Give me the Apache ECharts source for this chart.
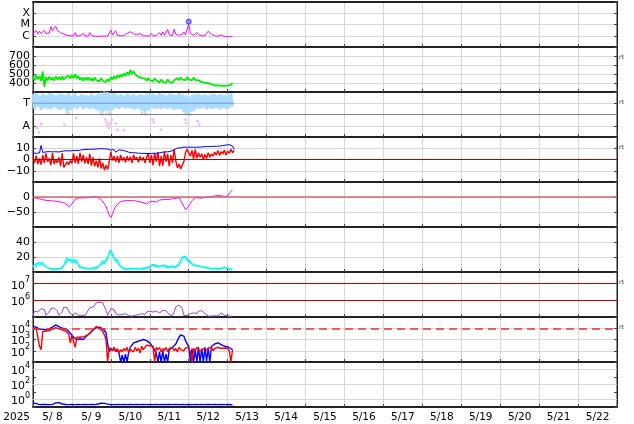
<!DOCTYPE html>
<html><head><meta charset="utf-8">
<script src="https://cdn.jsdelivr.net/npm/echarts@6/dist/echarts.min.js"></script>
<style>html,body{margin:0;padding:0;background:#fff}#c{width:634px;height:424px}</style>
</head><body><div id="c"></div>
<script>
// ---------- labels ----------
const dayLabels = ['5/ 8','5/ 9','5/10','5/11','5/12','5/13','5/14','5/15','5/16','5/17','5/18','5/19','5/20','5/21','5/22'];
const yearLabel = '2025';
const xrayClassLabels = {'-6':'C','-5':'M','-4':'X'};
const imfDirLabels = {'3':'T','1':'A'};
const rtLabel = 'rt';

// ---------- data (hourly from 5/8 00:00 UT unless noted) ----------
// GOES X-ray flux, units of 1e-6 W/m^2
const xray = [1.6,1.5,2.8,1.5,2.6,1.6,1.7,3.0,1.6,1.5,1.7,6.5,2.8,3.0,7.0,3.0,2.4,1.9,1.6,1.4,1.2,1.1,1.1,1.0,
1.0,0.95,1.9,0.95,0.95,1.0,0.95,1.6,0.95,0.95,0.95,1.9,1.0,0.95,0.9,0.9,0.9,0.9,0.9,0.9,0.95,0.9,0.9,1.0,
3.2,1.2,1.0,2.8,1.1,1.0,1.0,1.0,1.0,1.2,1.6,2.1,2.3,2.0,1.5,1.3,1.2,1.3,1.6,1.2,1.0,0.95,0.95,1.0,
1.0,1.6,1.0,1.0,1.0,1.1,1.9,1.1,2.2,1.1,1.0,3.6,1.2,1.1,1.0,3.6,1.4,1.2,1.1,1.1,1.3,2.2,1.2,1.1,
11,1.6,1.2,1.1,1.1,1.9,1.2,1.0,1.0,0.95,1.0,1.6,2.6,1.8,1.4,1.2,1.0,0.95,0.9,0.9,1.2,0.9,0.85,0.85,
0.8,0.8,0.85,0.85];
const flareHour = [96];
const flarePeak = [18];           // units of 1e-6 W/m^2
// Solar wind speed km/s
const windSpeed = [470,430,485,440,475,425,530,360,
465,430,470,435,460,428,472,440,468,432,475,438,462,
445,480,448,490,455,500,450,478,
435,462,425,458,430,465,428,455,422,460,432,450,418,455,425,
440,410,445,418,
465,440,475,448,485,460,495,470,505,478,
520,490,545,500,530,495,
505,470,490,455,475,
450,425,455,430,448,420,452,428,
435,405,438,412,430,400,440,410,432,402,428,410,
455,430,462,438,458,432,465,440,455,430,460,435,450,428,
435,410,430,405,425,400,
405,385,398,375,390,372,385,
370,388,368,385,372,390,
380,400];
// IMF direction (0..4 scale; 3 = Toward, 1 = Away)
const imfToward = [3.8,2.5,3.9,2.7,3.7,2.4,3.85,2.6,3.75,2.5,3.9,2.45,3.8,2.65,3.7,2.5,3.85,2.4,3.8,2.55,3.75,2.25,3.9,2.35,
3.7,2.6,3.8,2.5,3.65,2.7,3.8,2.45,3.75,2.6,3.7,2.5,3.85,2.55,3.7,2.4,3.8,2.3,
3.95,2.2,3.9,2.3,3.95,2.25,3.85,2.4,3.9,
2.6,3.75,2.5,3.8,2.65,3.7,2.55,3.85,2.6,3.75,2.5,3.8,2.45,3.7,2.55,
3.8,2.3,3.75,2.2,3.8,2.35,3.9,
2.6,3.85,2.5,3.75,2.55,3.9,2.45,3.8,2.6,3.7,2.5,3.85,2.55,3.8,2.4,3.75,2.5,3.9,2.45,3.8,
2.2,3.7,2.1,3.6,2.25,3.75,2.3,3.8,
2.55,3.85,2.5,3.75,2.6,3.8,2.45,3.7,2.55,3.85,2.5,3.8,2.6,3.75,2.45,3.8,2.55,3.7,2.5,3.85,2.6,3.9,2.7];
const imfGrayPts = [[21,2.1],[22,2.05],[42,2.1],[43,2.0],[44,3.95],[45,2.05],[46,3.9],[47,2.1],[48,2.0],[67,2.1],[69,2.05],[70,2.0],[94,2.05],[95,2.0],[96,2.1],[97,2.0]];
const imfAwayPts = [[2.6,0.8],[3.5,0.4],[5,1.15],[19.4,1.1],[26.6,1.7],[44.6,1.55],[45.5,1.3],[46,1.05],[46.8,0.8],[47.5,1.2],[48.7,1.55],[51,1.2],[52.2,0.65],[56,0.6],[73.7,1.55],[74.5,1.3],[78.8,0.65],[94,1.55],[94.5,1.25],[101.5,1.4],[102.5,1.1]];
const imfSectorLevel = 3;
const dataEndHour = 124;
// IMF Bt and Bz (nT), hourly 0..124
const bt = [5.8,6,5.5,6.2,5.8,12.5,6.2,6.5,6.8,6.5,7,6.6,6.8,7.2,6.9,7.1,6.7,7,7.3,7.6,7.8,8,7.6,8.1,7.8,8.2,8,8.3,8,8.4,
8.6,8.5,8.9,8.7,9,8.8,9.2,9.4,9.1,9.3,9.5,9.2,9.6,9.4,9.5,9.1,9.3,8.8,8.5,7.2,8.8,6.5,7.5,8.6,8.9,8.2,8.8,7.5,7,6.5,
6.2,6,5.8,6,5.9,5.6,5.8,5.5,5.6,5.4,5.7,5.3,5.5,5.4,5.2,5.5,5.4,5.6,5.9,6.2,6.5,6.8,7,6.8,7.1,7.4,7.8,8.6,9.5,10.2,
10.6,10.4,10.8,11,10.6,10.9,10.7,11,10.5,10.8,11.1,10.9,11.2,11,11.3,11.4,11.2,11.5,11.3,11.6,11.5,11.7,11.6,11.8,12,11.9,12.2,12.4,12.5,12.8,
13,13.3,13.5,12,9];
const bz = [2,-3,3.5,-4,1,-4.5,4,
-3,5.5,-2,1,-5,5.8,-4,0,-3,2,-6,5.5,-7,-5,
-2,-4.5,-1,-3.5,
5.5,-3,3,-4,6,-2,4,-3.5,2,
-4,5,-5.5,2,-6,-1,-7,1,
-8,-3,-9.5,-5,-9,-2,
7,-1,3,
-2,3,-3,4,-1,2,-2.5,
3,-1,2.5,-3,4,0,2,-2.5,3,-1,2,-3,1.5,
5.5,-3,4,-5,6,-2,
6.5,-6,3,-5.5,7,-2,5,-6,4,-3,9,-1,
-7.5,-4,-8.5,-5,-2,
6,9,10,
3,8,0.5,9,1,6,
2,5,0,4.5,1,6,2,5,3,6.5,
4,8,3.5,7,5,8.5,4,7.5,5.5,9,6,8];
// Dst (nT)
const dst = [-1,-3,-4,-5,-6,-8,-9,-10,-11,-12,-12,-13,-13,-14,-14,-15,-16,-17,-18,-19,-21,-26,-33,-28,
-23,-15,-8,-4,-3,-2,-3,-2,-3,-1,-2,0,1,2,2,1,-1,-3,-8,-14,-22,-31,-45,-60,
-68,-58,-42,-32,-24,-19,-16,-14,-13,-14,-12,-13,-12,-11,-12,-13,-14,-15,-16,-17,-19,-21,-23,-20,
-16,-12,-14,-13,-17,-12,-10,-8,-9,-6,-8,-9,-8,-7,-6,-5,-5,-3,-2,-8,-20,-32,-42,-36,
-31,-22,-12,-6,-2,-1,-3,-2,-4,-2,-1,0,-1,1,2,2,3,4,5,5,4,3,2,2,
3,12,18,24];
// two cyan traces (hourly, and 2-hourly)
const cyanA = [6,10,7,12,9,11,13,8,10,6,
4,3.5,5,4,3,4.5,3.5,5,6,
9,15,19,14,18,12,
16,12,15,9,
6,4.5,5.5,4,5,6,4.5,5,4,5.5,4.5,6,8,
12,15,11,14,18,
26,30,22,
18,14,17,10,
7,5,4,5,3.5,4.5,4,3,4.5,5,4,3.5,5,4,3,4.5,5,6,5.5,
9,11,8,10,7,
6,8,7,9,5.5,7,6,8.5,7,5,6,7.5,9,
14,20,18,21,
15,17,12,14,
9,7,8,6,7.5,9,7,5,6,
4,5,3.5,4.5,3,4,5,3.5,4,5.5,4.5,6,5,4,3.5,3];
const cyanBStep = 2;
const cyanB = [8,11,13,10,7,5,4,3,4,5,12,17,15,17,10,6,5,4,5,6,7,10,13,20,28,20,13,8,5,4,5,4,
5,4,5,6,7,10,9,7,9,8,7,8,7,11,19,19,16,11,9,8,7,6,5,4,5,4,5,6,5,4];
// electron flux, log10
const electronLog = [5.1,5.35,5.45,5.3,5.2,5.5,5.55,5.45,5.1,5.05,5.3,5.5,5.55,5.55,5.5,5.35,5.1,5.05,5.3,5.6,5.65,5.55,5.6,5.2,
5.08,5.1,5.25,5.22,5.1,5.08,5.1,5.12,5.08,5.15,5.4,5.55,5.65,5.6,5.7,5.85,5.9,5.88,5.95,5.85,5.75,5.4,5.1,5.3,
5.5,5.55,5.45,5.2,5.1,5.12,5.08,5.15,5.25,5.2,5.1,5.08,5.1,5.05,5.08,5.1,5.12,5.15,5.25,5.2,5.22,5.15,5.3,5.4,
5.35,5.42,5.3,5.2,5.35,5.3,5.25,5.35,5.4,5.35,5.38,5.3,5.15,5.08,5.1,5.3,5.6,5.7,5.72,5.68,5.5,5.1,
5.05,5.08,5.1,5.2,5.3,5.25,5.15,5.2,5.35,5.4,5.38,5.3,5.2,5.08,5.05,5.08,5.06,5.05,5.07,5.05,5.06,5.1,5.25,5.3,
5.1,5.05,5.06,5.05,5.04,5.05];
const electronAlertLog = [6, 7];
// proton/particle flux, log10 (blue and red channels)
const fluxBlueLog = [4.15,4.05,4.1,3.95,3.9,
3.85,3.9,3.8,3.85,3.9,3.95,4.0,4.1,4.2,4.3,
4.3,4.15,4.1,4.0,4.05,3.95,
3.85,3.75,3.55,3.4,
3.2,3.1,3.0,2.95,3.05,2.9,3.0,3.1,3.3,
3.4,3.55,3.7,3.85,3.95,4.05,4.2,4.1,
4.0,3.95,3.9,3.6,
2.6,1.9,
2.2,2.0,2.3,1.9,2.1,1.8,
1.0,1.6,1.0,1.7,1.0,1.9,
2.3,2.5,2.7,2.75,2.8,
2.85,2.9,2.95,3.0,2.95,2.9,2.85,2.7,
2.5,2.3,2.2,1.8,
1.0,1.9,1.0,2.0,1.0,1.7,1.0,2.1,
2.25,2.3,2.4,2.6,
2.9,3.2,3.4,3.45,3.3,2.9,
2.6,2.4,
1.0,2.2,1.0,2.1,1.0,2.3,1.0,2.2,1.0,2.3,1.1,2.2,1.0,2.4,
2.5,2.6,2.5,2.7,2.6,2.55,2.5,2.4,2.45,2.35,2.3,2.2,2.1];
const fluxRedLog = [4.0,3.9,3.95,3.8,
2.4,2.1,
3.7,3.85,3.75,3.9,3.8,3.85,3.9,4.0,4.05,4.1,
3.95,3.8,3.85,3.7,3.75,3.6,3.5,2.7,3.4,3.3,2.3,3.2,
3.15,3.2,3.1,3.25,3.3,3.35,3.45,3.55,3.7,3.85,4.0,4.15,
4.2,4.0,3.9,3.7,3.4,3.0,
1.0,2.3,
2.4,2.0,2.3,1.9,2.2,1.8,2.1,1.9,2.2,2.0,2.3,1.8,2.1,2.2,1.9,2.3,2.0,2.2,1.8,2.4,2.1,2.3,2.5,
2.55,2.45,2.5,2.4,1.0,2.3,
2.1,2.3,1.9,2.2,2.0,2.3,1.9,2.2,2.05,2.3,2.0,2.2,1.9,2.3,2.1,2.2,2.0,2.25,
2.1,2.3,1.9,1.0,2.2,2.0,2.3,2.1,2.25,1.95,2.2,2.3,2.05,2.25,2.1,2.3,2.0,2.2,2.1,2.3,2.15,2.2,2.05,2.25,2.1,2.2,2.0,1.0,2.1];
const fluxAlertLog = [4];
// bottom panel, log10
const lowFluxLog = [-0.45,-0.6,-0.55,-0.7,
-0.68,-0.72,-0.65,-0.7,-0.66,-0.72,-0.68,-0.7,-0.65,
-0.55,-0.45,-0.38,-0.42,-0.5,-0.6,
-0.7,-0.66,-0.72,-0.68,-0.7,-0.65,-0.72,-0.68,-0.7,-0.66,-0.72,-0.68,-0.7,-0.65,-0.72,-0.68,-0.7,-0.66,-0.72,-0.68,-0.65,-0.6,
-0.52,-0.5,-0.48,-0.52,-0.55,-0.62,
-0.7,-0.66,-0.72,-0.68,-0.7,-0.65,-0.72,-0.69,-0.7,-0.67,
-0.73,-0.68,-0.7,-0.66,-0.72,-0.68,-0.71,-0.66,-0.72,-0.69,
-0.7,-0.67,-0.72,-0.68,-0.7,-0.65,-0.72,-0.68,-0.7,-0.66,
-0.72,-0.69,-0.7,-0.67,-0.73,-0.68,-0.7,-0.66,-0.72,-0.68,
-0.71,-0.66,-0.72,-0.69,-0.7,-0.67,-0.72,-0.68,-0.7,-0.65,
-0.72,-0.68,-0.7,-0.66,-0.72,-0.69,-0.7,-0.67,-0.73,-0.68,
-0.7,-0.66,-0.72,-0.68,-0.71,-0.66,-0.72,-0.69,-0.7,-0.67,
-0.72,-0.68,-0.7,-0.66,-0.72,-0.7,-0.72];
const lowFluxGridLog = [0, 2, 4];

// ---------- build ----------
const FONT = 'DejaVu Sans';
const series1h = (arr, f, step) => arr.map((v, i) => [i * (step || 1), f ? f(v) : v]);
const lg = v => Math.log10(v * 1e-6);

const N = 9, TOP = 2, H = 45;
const grid = [], xAxis = [], yAxis = [];
for (let i = 0; i < N; i++) {
  grid.push({left: 33, right: 17, top: TOP + H * i, height: H, show: true, borderColor: '#222', borderWidth: 1, backgroundColor: 'transparent'});
  xAxis.push({type: 'value', gridIndex: i, min: 0, max: 360, interval: 24, position: 'bottom',
    axisLine: {show: true, onZero: false, lineStyle: {color: '#222', width: 2}},
    axisTick: {show: true, inside: true, length: 3, lineStyle: {color: '#444'}},
    axisLabel: {show: false},
    splitLine: {show: true, lineStyle: {color: '#d6d6d6', width: 1}}});
}
// label axis (noon positions) for the bottom grid
xAxis.push({type: 'value', gridIndex: 8, min: 0, max: 360, interval: 12, position: 'bottom',
  axisLine: {show: false, onZero: false}, axisTick: {show: false}, splitLine: {show: false},
  axisLabel: {show: true, margin: 5, fontSize: 10.5, fontFamily: FONT, color: '#000',
    formatter: v => (v % 24 === 12) ? (dayLabels[(v - 12) / 24] || '') : ''},
  name: yearLabel, nameLocation: 'start', nameGap: 3,
  nameTextStyle: {fontSize: 10.5, fontFamily: FONT, color: '#000', verticalAlign: 'top', padding: [5, 0, 0, 0]}});
// top border for first grid
xAxis.push({type: 'value', gridIndex: 0, min: 0, max: 360, position: 'top',
  axisLine: {show: true, onZero: false, lineStyle: {color: '#222', width: 2}},
  axisTick: {show: false}, axisLabel: {show: false}, splitLine: {show: false}});

const supRich = {b: {fontSize: 11, fontFamily: FONT, color: '#000', lineHeight: 15, verticalAlign: 'bottom'},
                 s: {fontSize: 8, fontFamily: FONT, color: '#000', lineHeight: 9, verticalAlign: 'top'}};
const logFmt = shown => v => shown.includes(v) ? '{b|10}{s|' + v + '}' : '';

const panels = [
  {min: -7, max: -3, interval: 1, split: true, fmt: v => xrayClassLabels[String(v)] || ''},
  {min: 300, max: 800, interval: 100, split: true, fmt: v => (v > 300 && v < 800) ? String(v) : ''},
  {min: 0, max: 4, interval: 1, split: true, fmt: v => imfDirLabels[String(v)] || ''},
  {min: -20, max: 20, interval: 10, split: true, fmt: v => (Math.abs(v) < 20) ? String(v).replace('-', '\u2212') : ''},
  {min: -100, max: 50, interval: 50, split: true, fmt: v => (v === 0 || v === -50) ? String(v).replace('-', '\u2212') : ''},
  {min: 0, max: 60, interval: 20, split: true, fmt: v => (v === 20 || v === 40) ? String(v) : ''},
  {min: 5, max: 7.7, interval: 1, split: false, fmt: logFmt([6, 7]), rich: true},
  {min: 1, max: 5, interval: 1, split: true, fmt: logFmt([2, 3, 4]), rich: true},
  {min: -1, max: 5, interval: 1, split: false, fmt: logFmt([0, 2, 4]), rich: true}
];
panels.forEach((p, i) => {
  const lab = {show: true, margin: 3, fontSize: 11, fontFamily: FONT, color: '#000', formatter: p.fmt};
  if (p.rich) lab.rich = supRich;
  yAxis.push({type: 'value', gridIndex: i, min: p.min, max: p.max, interval: p.interval, position: 'left',
    axisLine: {show: true, onZero: false, lineStyle: {color: '#222', width: 1}},
    axisTick: {show: true, inside: true, length: 3, lineStyle: {color: '#444'}},
    axisLabel: lab,
    splitLine: {show: p.split, lineStyle: {color: '#d6d6d6', width: 1}}});
});
panels.forEach((p, i) => {
  yAxis.push({type: 'value', gridIndex: i, min: p.min, max: p.max, interval: p.interval, position: 'right',
    axisLine: {show: true, onZero: false, lineStyle: {color: '#222', width: 1}},
    axisTick: {show: true, inside: true, length: 3, lineStyle: {color: '#444'}},
    axisLabel: {show: false}, splitLine: {show: false}});
});

const line = (i, data, color, width, extra) => Object.assign({type: 'line', xAxisIndex: i, yAxisIndex: i, data,
  symbol: 'none', showSymbol: false, lineStyle: {color, width: width || 1}, itemStyle: {color}, animation: false, silent: true, z: 3}, extra || {});
const hline = (vals, color, width, type) => ({silent: true, symbol: 'none', label: {show: false}, animation: false,
  lineStyle: {color, width, type: type || 'solid'}, data: vals.map(v => ({yAxis: v}))});

const series = [
  line(0, series1h(xray, lg), '#ff00ff', 1),
  {type: 'scatter', xAxisIndex: 0, yAxisIndex: 0, data: flareHour.map((t, k) => [t, lg(flarePeak[k])]),
    symbol: 'circle', symbolSize: 5, itemStyle: {color: '#7777ff', borderColor: '#2222ee', borderWidth: 1}, animation: false, silent: true, z: 5},
  line(1, series1h(windSpeed), '#00ee00', 1.8),
  line(2, series1h(imfToward), '#aadcff', 2.8),
  {type: 'scatter', xAxisIndex: 2, yAxisIndex: 2, data: imfGrayPts, symbol: 'rect', symbolSize: 2.5, itemStyle: {color: '#c4c4c4'}, animation: false, silent: true},
  {type: 'scatter', xAxisIndex: 2, yAxisIndex: 2, data: imfAwayPts, symbol: 'rect', symbolSize: 2.5, itemStyle: {color: '#f2a8f2'}, animation: false, silent: true},
  line(2, [[0, imfSectorLevel], [dataEndHour, imfSectorLevel]], '#7090ff', 1.2, {markLine: hline([2], '#808080', 1)}),
  line(3, series1h(bt), '#0000ff', 1, {z: 4}),
  line(3, series1h(bz), '#ff0000', 1.4, {markLine: hline([0], '#aa0000', 1)}),
  line(4, series1h(dst), '#ff00ff', 1, {markLine: hline([0], '#cc6a6a', 1.6), z: 4}),
  line(5, series1h(cyanB, null, cyanBStep), '#33e0e0', 1.3),
  line(5, series1h(cyanA), '#00ffff', 1.3),
  line(6, series1h(electronLog), '#a040d0', 1, {markLine: hline(electronAlertLog, '#cc0000', 1.2)}),
  line(7, series1h(fluxBlueLog), '#0000ff', 1.4),
  line(7, series1h(fluxRedLog), '#ff0000', 1.4, {markLine: hline(fluxAlertLog, '#ee3030', 1.5, [8, 5])}),
  line(8, series1h(lowFluxLog), '#0000ff', 1.4, {markLine: hline(lowFluxGridLog, '#d6d6d6', 1)})
];

const rtPanels = [1, 2, 3, 6, 7];
const graphic = rtPanels.map(i => ({type: 'text', left: 619, top: TOP + H * i + 7,
  style: {text: rtLabel, fontSize: 6, fontFamily: FONT, fill: '#333'}, silent: true}));

const chart = echarts.init(document.getElementById('c'), null, {renderer: 'canvas'});
chart.setOption({animation: false, backgroundColor: '#fff', grid, xAxis, yAxis, series, graphic});
</script>
</body></html>
